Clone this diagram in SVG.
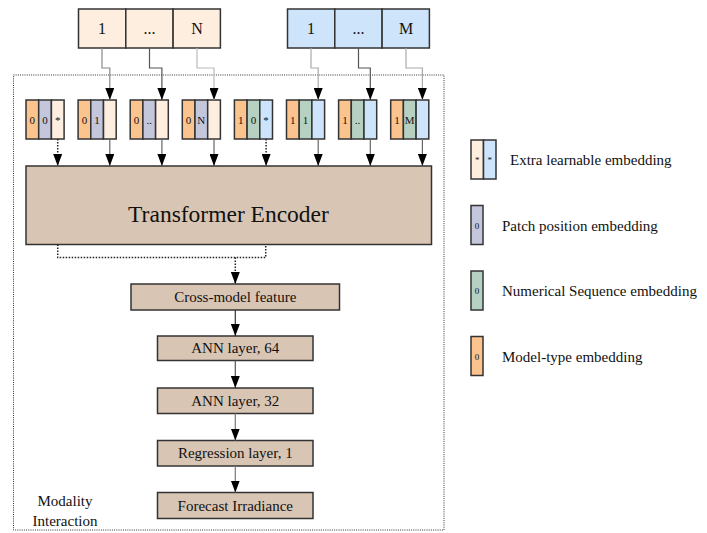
<svg xmlns="http://www.w3.org/2000/svg" width="707" height="533" viewBox="0 0 707 533" font-family="Liberation Serif, Times New Roman, serif">
<defs>
<marker id="ah" viewBox="0 0 12 9" refX="12" refY="4.5" markerWidth="12" markerHeight="9" markerUnits="userSpaceOnUse" orient="auto"><path d="M0,0 L12,4.5 L0,9 z" fill="#000"/></marker>
</defs>
<style>
text{font-family:"Liberation Serif","Times New Roman",serif;fill:#111;}
.bx{stroke:#333;stroke-width:1.5;}
.peach{fill:#fdeee0;}
.blue{fill:#cde4fb;}
.org{fill:#fbc48f;}
.lav{fill:#c4c6db;}
.grn{fill:#b6d0c2;}
.tan{fill:#d9c5b4;}
.t16{font-size:16px;text-anchor:middle;}
.t11{font-size:11px;text-anchor:middle;}
.t8{font-size:9px;text-anchor:middle;}
.t15{font-size:15px;text-anchor:middle;}
.lg{font-size:15px;}
.ln{fill:none;stroke-width:1.2;}
.dot{fill:none;stroke:#222;stroke-width:1.5;stroke-dasharray:1.5 1.5;}
</style>
<rect x="13.5" y="75" width="430.5" height="455" fill="none" stroke="#333" stroke-width="1" stroke-dasharray="1 1.2"/>
<g id="inputA">
<rect class="bx peach" x="78.5" y="9" width="47.3" height="39"/>
<rect class="bx peach" x="125.8" y="9" width="47.3" height="39"/>
<rect class="bx peach" x="173.1" y="9" width="47.3" height="39"/>
<text class="t16" x="102" y="34">1</text><text class="t16" x="149.5" y="34">...</text><text class="t16" x="197" y="34">N</text>
</g>
<g id="inputB">
<rect class="bx blue" x="287.5" y="9" width="47.3" height="39"/>
<rect class="bx blue" x="334.8" y="9" width="47.3" height="39"/>
<rect class="bx blue" x="382.1" y="9" width="47.3" height="39"/>
<text class="t16" x="311" y="34">1</text><text class="t16" x="358.5" y="34">...</text><text class="t16" x="406" y="34">M</text>
</g>
<g id="emb1"><rect class="bx org" x="26" y="100" width="12.7" height="39"/><rect class="bx lav" x="38.7" y="100" width="12.7" height="39"/><rect class="bx peach" x="51.4" y="100" width="12.7" height="39"/><text class="t11" x="32.3" y="124">0</text><text class="t11" x="45" y="124">0</text><text class="t11" x="57.7" y="124">*</text></g>
<g id="emb2"><rect class="bx org" x="78.1" y="100" width="12.7" height="39"/><rect class="bx lav" x="90.8" y="100" width="12.7" height="39"/><rect class="bx peach" x="103.5" y="100" width="12.7" height="39"/><text class="t11" x="84.4" y="124">0</text><text class="t11" x="97.1" y="124">1</text></g>
<g id="emb3"><rect class="bx org" x="130.2" y="100" width="12.7" height="39"/><rect class="bx lav" x="142.9" y="100" width="12.7" height="39"/><rect class="bx peach" x="155.6" y="100" width="12.7" height="39"/><text class="t11" x="136.5" y="124">0</text><text class="t11" x="149.2" y="124">..</text></g>
<g id="emb4"><rect class="bx org" x="182.3" y="100" width="12.7" height="39"/><rect class="bx lav" x="195" y="100" width="12.7" height="39"/><rect class="bx peach" x="207.7" y="100" width="12.7" height="39"/><text class="t11" x="188.6" y="124">0</text><text class="t11" x="201.3" y="124">N</text></g>
<g id="emb5"><rect class="bx org" x="234.4" y="100" width="12.7" height="39"/><rect class="bx grn" x="247.1" y="100" width="12.7" height="39"/><rect class="bx blue" x="259.8" y="100" width="12.7" height="39"/><text class="t11" x="240.7" y="124">1</text><text class="t11" x="253.4" y="124">0</text><text class="t11" x="266.1" y="124">*</text></g>
<g id="emb6"><rect class="bx org" x="286.5" y="100" width="12.7" height="39"/><rect class="bx grn" x="299.2" y="100" width="12.7" height="39"/><rect class="bx blue" x="311.9" y="100" width="12.7" height="39"/><text class="t11" x="292.8" y="124">1</text><text class="t11" x="305.5" y="124">1</text></g>
<g id="emb7"><rect class="bx org" x="338.6" y="100" width="12.7" height="39"/><rect class="bx grn" x="351.3" y="100" width="12.7" height="39"/><rect class="bx blue" x="364" y="100" width="12.7" height="39"/><text class="t11" x="344.9" y="124">1</text><text class="t11" x="357.6" y="124">..</text></g>
<g id="emb8"><rect class="bx org" x="390.7" y="100" width="12.7" height="39"/><rect class="bx grn" x="403.4" y="100" width="12.7" height="39"/><rect class="bx blue" x="416.1" y="100" width="12.7" height="39"/><text class="t11" x="397" y="124">1</text><text class="t11" x="409.7" y="124">M</text></g>
<g id="encoder"><rect class="bx tan" x="26" y="166" width="405.5" height="78.5"/><text x="228.5" y="222" font-size="23.5" text-anchor="middle">Transformer Encoder</text></g>
<g id="crossfeat"><rect class="bx tan" x="131" y="284" width="208.5" height="26"/><text class="t15" x="235.3" y="302">Cross-model feature</text></g>
<g id="ann64"><rect class="bx tan" x="157.5" y="336" width="155.5" height="24.5"/><text class="t15" x="235.3" y="353">ANN layer, 64</text></g>
<g id="ann32"><rect class="bx tan" x="157.5" y="388" width="155.5" height="25.5"/><text class="t15" x="235.3" y="405.5">ANN layer, 32</text></g>
<g id="regr"><rect class="bx tan" x="157.5" y="440.5" width="155.5" height="25.5"/><text class="t15" x="235.3" y="458">Regression layer, 1</text></g>
<g id="forecast"><rect class="bx tan" x="157.5" y="492.5" width="155.5" height="26"/><text class="t15" x="235.3" y="510.5">Forecast Irradiance</text></g>
<g id="modality"><text class="t15" x="65" y="506">Modality</text><text class="t15" x="65" y="525.5">Interaction</text></g>
<g id="legend">
<rect class="bx peach" x="471" y="140" width="12.5" height="39"/><rect class="bx blue" x="483.5" y="140" width="12.5" height="39"/>
<text class="t8" x="477.2" y="163">*</text><text class="t8" x="489.7" y="163">*</text>
<text class="lg" x="510" y="164.5">Extra learnable embedding</text>
<rect class="bx lav" x="471" y="205.5" width="12" height="39"/><text class="t8" x="477" y="228.5">0</text>
<text class="lg" x="502" y="231">Patch position embedding</text>
<rect class="bx grn" x="471" y="271" width="12" height="39"/><text class="t8" x="477" y="294">0</text>
<text class="lg" x="502" y="296">Numerical Sequence embedding</text>
<rect class="bx org" x="471" y="336.5" width="12" height="39"/><text class="t8" x="477" y="359.5">0</text>
<text class="lg" x="502" y="361.5">Model-type embedding</text>
</g>
<g id="connectors">
<path class="ln" stroke="#888" d="M102,48 V68 H109.8 V100" marker-end="url(#ah)"/>
<path class="ln" stroke="#555" d="M149.5,48 V68 H161.9 V100" marker-end="url(#ah)"/>
<path class="ln" stroke="#bbb" d="M197,48 V68 H214 V100" marker-end="url(#ah)"/>
<path class="ln" stroke="#aaa" d="M311,48 V68 H318.2 V100" marker-end="url(#ah)"/>
<path class="ln" stroke="#555" d="M358.5,48 V68 H370.3 V100" marker-end="url(#ah)"/>
<path class="ln" stroke="#aaa" d="M406,48 V68 H422.4 V100" marker-end="url(#ah)"/>
<path class="dot" d="M57.7,139 V166" marker-end="url(#ah)"/>
<path class="ln" stroke="#666" d="M109.8,139 V166" marker-end="url(#ah)"/>
<path class="ln" stroke="#666" d="M161.9,139 V166" marker-end="url(#ah)"/>
<path class="ln" stroke="#666" d="M214,139 V166" marker-end="url(#ah)"/>
<path class="dot" d="M266.1,139 V166" marker-end="url(#ah)"/>
<path class="ln" stroke="#666" d="M318.2,139 V166" marker-end="url(#ah)"/>
<path class="ln" stroke="#666" d="M370.3,139 V166" marker-end="url(#ah)"/>
<path class="ln" stroke="#666" d="M422.4,139 V166" marker-end="url(#ah)"/>
<path class="dot" d="M57.7,244.5 V257.5 H265.7 V244.5"/>
<path class="dot" d="M235.3,257.5 V284" marker-end="url(#ah)"/>
<path class="ln" stroke="#333" d="M235.3,310 V336" marker-end="url(#ah)"/>
<path class="ln" stroke="#555" d="M235.3,360.5 V388" marker-end="url(#ah)"/>
<path class="ln" stroke="#777" d="M235.3,413.5 V440.5" marker-end="url(#ah)"/>
<path class="ln" stroke="#777" d="M235.3,466 V492.5" marker-end="url(#ah)"/>
</g>
</svg>
